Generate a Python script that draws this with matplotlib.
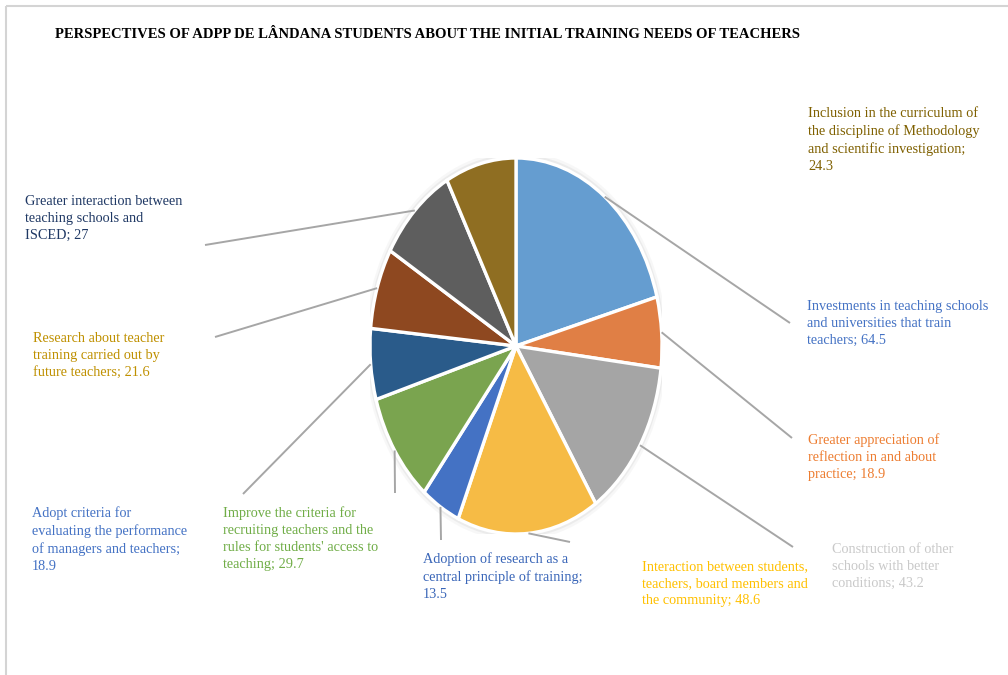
import matplotlib
matplotlib.use("Agg")
import matplotlib.pyplot as plt
import numpy as np
from matplotlib.patches import Ellipse, Rectangle

# ---------------- data ----------------
categories = [
    "Investments in teaching schools\nand universities that train\nteachers",
    "Greater appreciation of\nreflection in and about\npractice",
    "Construction of other\nschools with better\nconditions",
    "Interaction between students,\nteachers, board members and\nthe community",
    "Adoption of research as a\ncentral principle of training;\n",
    "Improve the criteria for\nrecruiting teachers and the\nrules for students' access to\nteaching",
    "Adopt criteria for\nevaluating the performance\nof managers and teachers;\n",
    "Research about teacher\ntraining carried out by\nfuture teachers",
    "Greater interaction between\nteaching schools and\nISCED",
    "Inclusion in the curriculum of\nthe discipline of Methodology\nand scientific investigation;\n",
]
values = [64.5, 18.9, 43.2, 48.6, 13.5, 29.7, 18.9, 21.6, 27, 24.3]
slice_colors = ["#659DD0", "#E07F45", "#A5A5A5", "#F6BB45", "#4472C4",
                "#7AA44F", "#2A5B8A", "#8E4820", "#5E5E5E", "#8F6E22"]
label_colors = ["#4472C4", "#ED7D31", "#C9C9C9", "#FFC000", "#3A66B8",
                "#70AD47", "#4472C4", "#BF9000", "#1F3864", "#7F6000"]
title = "PERSPECTIVES OF ADPP DE LÂNDANA STUDENTS ABOUT THE INITIAL TRAINING NEEDS OF TEACHERS"

# ---------------- layout (pixels) ----------------
W, H = 1008, 675
cx, cy, rx, ry = 516, 346, 146, 188
label_pos = [(807, 300), (808, 433), (832, 543), (642, 560), (423, 552),
             (223, 506), (32, 506), (33, 332), (25, 195), (808, 107)]
leader_end = [(790, 323), (792, 438), (793, 547), (570, 542), (441, 540),
              (395, 493), (243, 494), (215, 337), (205, 245), None]

fig = plt.figure(figsize=(W / 100, H / 100), dpi=100)
fig.patch.set_facecolor("white")

# pie axes: unit circle maps onto the ellipse
pax = fig.add_axes([(cx - rx) / W, (H - cy - ry) / H, 2 * rx / W, 2 * ry / H])
wedges, _ = pax.pie(values, colors=slice_colors, startangle=90, counterclock=False,
                    wedgeprops=dict(edgecolor="white", linewidth=2.4))
pax.set_aspect("auto")
pax.set_xlim(-1, 1)
pax.set_ylim(-1, 1)
pax.set_zorder(2)
pax.axis("off")
# subtle halo
for k, a in [(1.035, 0.10), (1.02, 0.18)]:
    pax.add_patch(Ellipse((0, 0), 2 * k, 2 * k, facecolor="#b8b8b8", alpha=a,
                          edgecolor="none", zorder=0))

# overlay axes in pixel coordinates
ox = fig.add_axes([0, 0, 1, 1], zorder=3)
ox.set_xlim(0, W)
ox.set_ylim(H, 0)
ox.axis("off")
ox.patch.set_alpha(0)

ox.add_patch(Rectangle((6, 6), W + 10, H - 4, fill=False, edgecolor="#d4d4d4", linewidth=1.5))

ox.text(55, 34, title, fontsize=10.5, fontweight="bold", family="Liberation Serif",
        color="black", va="center", ha="left")

to_pix = ox.transData.inverted()
for i, (w, cat, v) in enumerate(zip(wedges, categories, values)):
    sep = "" if cat.endswith("\n") else "; "
    txt = f"{cat}{sep}{v:g}"
    x, y = label_pos[i]
    ox.text(x, y, txt, fontsize=10.25, family="Liberation Serif", color=label_colors[i],
            va="top", ha="left", linespacing=1.4)
    if leader_end[i] is not None:
        mid = np.deg2rad((w.theta1 + w.theta2) / 2)
        disp = pax.transData.transform((np.cos(mid), np.sin(mid)))
        sx, sy = to_pix.transform(disp)
        ex, ey = leader_end[i]
        ox.plot([sx, ex], [sy, ey], color="#A6A6A6", linewidth=1.4, solid_capstyle="butt")

fig.savefig("out.png", dpi=100, facecolor="white")
